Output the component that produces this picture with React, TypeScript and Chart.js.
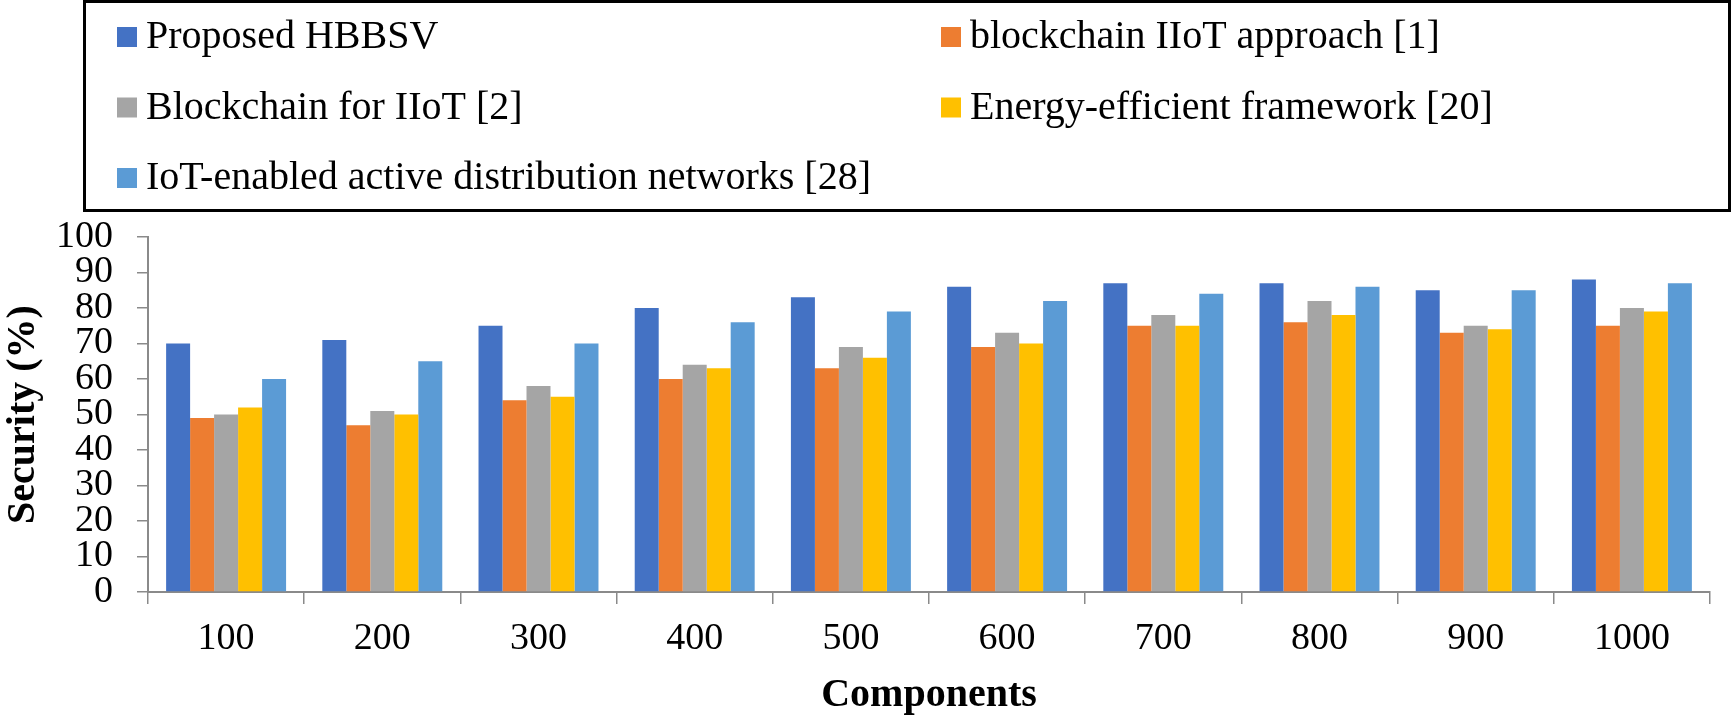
import React, { useEffect, useRef } from 'react';
import { Chart, registerables } from 'chart.js';

Chart.register(...registerables);

// ---- data ----
const categories = ['100', '200', '300', '400', '500', '600', '700', '800', '900', '1000'];
const seriesNames = [
  'Proposed HBBSV',
  'blockchain IIoT approach [1]',
  'Blockchain for IIoT [2]',
  'Energy-efficient framework [20]',
  'IoT-enabled active distribution networks [28]',
];
const seriesColors = ['#4472C4', '#ED7D31', '#A5A5A5', '#FFC000', '#5B9BD5'];
const proposedHBBSV = [70, 71, 75, 80, 83, 86, 87, 87, 85, 88];
const blockchainIIoTApproach = [49, 47, 54, 60, 63, 69, 75, 76, 73, 75];
const blockchainForIIoT = [50, 51, 58, 64, 69, 73, 78, 82, 75, 80];
const energyEfficientFramework = [52, 50, 55, 63, 66, 70, 75, 78, 74, 79];
const iotEnabledADN = [60, 65, 70, 76, 79, 82, 84, 86, 85, 87];
const seriesValues = [proposedHBBSV, blockchainIIoTApproach, blockchainForIIoT, energyEfficientFramework, iotEnabledADN];
const yMin = 0;
const yMax = 100;
const yStep = 10;
const xTitle = 'Components';
const yTitle = 'Security (%)';

const SERIF = '"Liberation Serif", "Times New Roman", serif';
const AXIS_GRAY = '#8a8a8a';

const boxLegend = {
  id: 'boxLegend',
  afterDraw(chart: any) {
    const ctx = chart.ctx as CanvasRenderingContext2D;
    ctx.save();
    ctx.lineWidth = 3;
    ctx.strokeStyle = '#000';
    ctx.strokeRect(84.5, 1.5, 1645, 209);
    ctx.font = `40px ${SERIF}`;
    ctx.textBaseline = 'alphabetic';
    ctx.textAlign = 'left';
    chart.data.datasets.forEach((ds: any, i: number) => {
      const col = i % 2;
      const row = Math.floor(i / 2);
      const sx = col ? 941 : 117;
      const base = 48 + row * 70.5;
      ctx.fillStyle = ds.backgroundColor;
      ctx.fillRect(sx, base - 21, 20, 20);
      ctx.fillStyle = '#000';
      ctx.fillText(ds.label, sx + 29, base);
    });
    ctx.restore();
  },
};

export default function App() {
  const ref = useRef<HTMLCanvasElement>(null);

  useEffect(() => {
    if (!ref.current) return;
    const chart = new Chart(ref.current, {
      type: 'bar',
      data: {
        labels: categories,
        datasets: seriesNames.map((name, i) => ({
          label: name,
          data: seriesValues[i],
          backgroundColor: seriesColors[i],
          borderWidth: 0,
          categoryPercentage: 0.768,
          barPercentage: 1.0,
        })),
      },
      options: {
        responsive: false,
        animation: false,
        devicePixelRatio: 1,
        layout: { padding: { top: 237, right: 22, left: 0, bottom: 0 } },
        plugins: {
          legend: { display: false },
          tooltip: { enabled: false },
          title: { display: false },
        },
        scales: {
          x: {
            offset: true,
            grid: {
              display: true,
              drawOnChartArea: false,
              drawTicks: true,
              tickLength: 12,
              color: AXIS_GRAY,
              lineWidth: 1.5,
              offset: true,
            },
            border: { display: true, color: AXIS_GRAY, width: 2 },
            ticks: {
              color: '#000',
              font: { family: SERIF, size: 38 },
              padding: 12,
              maxRotation: 0,
              autoSkip: false,
            },
            title: {
              display: true,
              text: xTitle,
              color: '#000',
              font: { family: SERIF, size: 40, weight: 'bold', lineHeight: 1 },
              padding: { top: 0, bottom: 8 },
            },
            afterFit(scale: any) {
              scale.height = 132;
            },
          },
          y: {
            min: yMin,
            max: yMax,
            grid: {
              display: true,
              drawOnChartArea: false,
              drawTicks: true,
              tickLength: 11,
              color: AXIS_GRAY,
              lineWidth: 1.5,
            },
            border: { display: true, color: AXIS_GRAY, width: 2 },
            ticks: {
              stepSize: yStep,
              autoSkip: false,
              color: '#000',
              font: { family: SERIF, size: 38 },
              padding: 24,
            },
            title: {
              display: true,
              text: yTitle,
              color: '#000',
              font: { family: SERIF, size: 40, weight: 'bold', lineHeight: 1 },
              padding: { top: 4, bottom: 0 },
            },
            afterFit(scale: any) {
              scale.width = 148;
            },
          },
        },
      },
      plugins: [boxLegend],
    });
    return () => chart.destroy();
  }, []);

  return (
    <div style={{ position: 'absolute', left: 0, top: 0, width: 1732, height: 724, background: '#fff' }}>
      <canvas ref={ref} width={1732} height={724} style={{ width: 1732, height: 724, display: 'block' }} />
    </div>
  );
}
